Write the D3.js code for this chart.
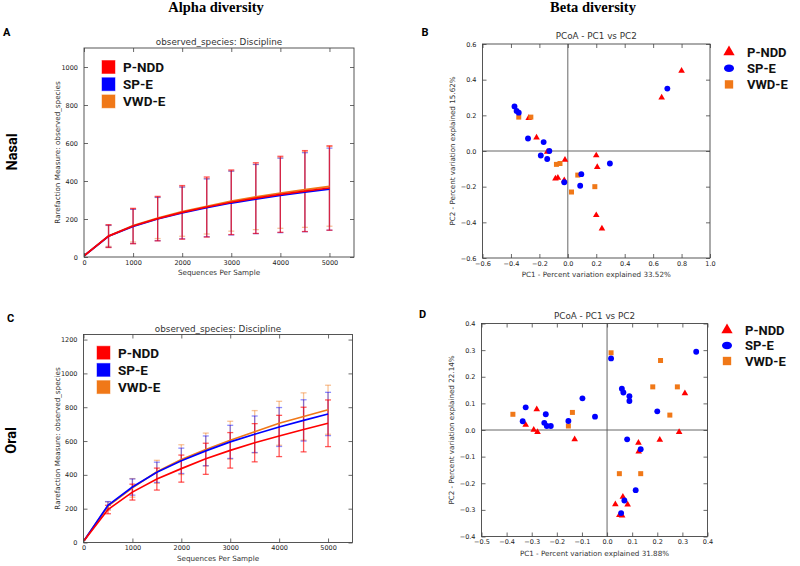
<!DOCTYPE html>
<html>
<head>
<meta charset="utf-8">
<script src="https://cdn.jsdelivr.net/npm/d3@7"></script>
<style>
body{margin:0;background:#fff}
</style>
</head>
<body>
<div id="chart"></div>
<script>
// groups + colours
var groups = ["P-NDD", "SP-E", "VWD-E"]
var groupColors = ["#ff0000", "#0000ff", "#f07818"]

// rarefaction depths (x axis)
var seqDepth = [10, 500, 1000, 1500, 2000, 2500, 3000, 3500, 4000, 4500, 5000]
var xTicksRare = [0, 1000, 2000, 3000, 4000, 5000]

// nasal alpha rarefaction: mean and std dev per group
var nasalMean_PNDD = [8, 110, 163, 202, 235, 263, 288, 310, 330, 347, 363]
var nasalMean_SPE  = [8, 109, 161, 200, 232, 259, 284, 305, 324, 341, 357]
var nasalMean_VWDE = [8, 111, 165, 205, 239, 267, 294, 316, 337, 355, 372]
var nasalSd_PNDD = [0, 60, 93, 117, 141, 158, 170, 186, 200, 213, 222]
var nasalSd_SPE  = [0, 58, 90, 114, 136, 152, 168, 182, 196, 208, 216]
var nasalSd_VWDE = [0, 55, 86, 108, 130, 146, 158, 172, 186, 199, 210]
var nasalYTicks = [0, 200, 400, 600, 800, 1000]

// oral alpha rarefaction
var oralMean_PNDD = [10, 195, 298, 375, 437, 495, 545, 590, 630, 668, 705]
var oralMean_SPE  = [10, 220, 328, 415, 483, 542, 595, 640, 683, 722, 760]
var oralMean_VWDE = [10, 215, 323, 418, 490, 550, 605, 655, 705, 745, 785]
var oralSd_PNDD = [0, 25, 47, 65, 80, 92, 105, 113, 122, 132, 138]
var oralSd_SPE  = [0, 22, 48, 60, 75, 88, 98, 108, 115, 122, 128]
var oralSd_VWDE = [0, 25, 55, 68, 88, 97, 112, 125, 130, 140, 145]
var oralYTicks = [0, 200, 400, 600, 800, 1000, 1200]

// nasal PCoA [PC1, PC2]
var nasalPcoa_PNDD = [[0.80,0.45],[0.66,0.30],[-0.275,0.185],[-0.22,0.075],[-0.145,-0.005],[-0.02,-0.05],[-0.087,-0.155],[-0.07,-0.15],[-0.025,-0.165],[0.20,-0.025],[0.207,-0.09],[0.20,-0.36],[0.24,-0.435]]
var nasalPcoa_SPE = [[0.70,0.35],[-0.375,0.25],[-0.36,0.225],[-0.345,0.215],[-0.28,0.07],[-0.17,0.05],[-0.13,0.0],[-0.19,-0.025],[-0.145,-0.045],[-0.025,-0.175],[0.095,-0.13],[0.087,-0.195],[0.296,-0.07]]
var nasalPcoa_VWDE = [[-0.345,0.19],[-0.26,0.19],[-0.08,-0.075],[-0.055,-0.07],[0.07,-0.135],[0.026,-0.23],[0.19,-0.2]]

// oral PCoA [PC1, PC2]
var oralPcoa_PNDD = [[-0.28,0.078],[-0.324,0.019],[-0.292,0.001],[-0.277,-0.008],[-0.129,-0.035],[0.31,0.138],[0.125,-0.048],[0.126,-0.081],[0.21,-0.037],[0.287,-0.008],[0.063,-0.251],[0.033,-0.279],[0.082,-0.28],[0.049,-0.32],[0.06,-0.321]]
var oralPcoa_SPE = [[-0.324,0.085],[-0.336,0.033],[-0.244,0.059],[-0.25,0.027],[-0.24,0.015],[-0.224,0.015],[-0.154,0.034],[-0.098,0.119],[-0.048,0.05],[0.016,0.269],[0.355,0.294],[0.059,0.155],[0.065,0.141],[0.089,0.127],[0.089,0.109],[0.2,0.07],[0.08,-0.035],[0.134,-0.072],[0.114,-0.226],[0.069,-0.265],[0.056,-0.312]]
var oralPcoa_VWDE = [[-0.375,0.059],[-0.138,0.066],[-0.154,0.015],[0.016,0.29],[0.213,0.261],[0.182,0.162],[0.28,0.162],[0.25,0.056],[0.049,-0.164],[0.134,-0.164]]

var nasalPctPC1 = "33.52%", nasalPctPC2 = "15.62%"
var oralPctPC1 = "31.88%", oralPctPC2 = "22.14%"

var sansFont = "'DejaVu Sans', sans-serif"
var boldFont = "Roboto, 'Liberation Sans', sans-serif"

var svg = d3.select("#chart").append("svg")
    .attr("width", 800)
    .attr("height", 566)
    .style("background", "#fff")

// frame + inward ticks on all four sides
function drawAxes(g, x, y, xTicks, yTicks, fmt){
  var yb = y.range()[0], yt = y.range()[1]
  var xl = x.range()[0], xr = x.range()[1]
  var bottom = g.append("g").attr("transform", "translate(0," + yb + ")")
    .call(d3.axisBottom(x).tickValues(xTicks).tickSize(-4).tickSizeOuter(0).tickPadding(3).tickFormat(fmt))
  var top = g.append("g").attr("transform", "translate(0," + yt + ")")
    .call(d3.axisTop(x).tickValues(xTicks).tickSize(-4).tickSizeOuter(0).tickFormat(""))
  var left = g.append("g").attr("transform", "translate(" + xl + ",0)")
    .call(d3.axisLeft(y).tickValues(yTicks).tickSize(-4).tickSizeOuter(0).tickPadding(6).tickFormat(fmt))
  var right = g.append("g").attr("transform", "translate(" + xr + ",0)")
    .call(d3.axisRight(y).tickValues(yTicks).tickSize(-4).tickSizeOuter(0).tickFormat(""))
  ;[bottom, top, left, right].forEach(function(a){
    a.select(".domain").remove()
    a.selectAll("line").attr("stroke", "#444").attr("stroke-width", 0.8)
    a.selectAll("text").attr("font-family", sansFont).attr("font-size", 6.5).attr("fill", "#222")
  })
  g.append("rect")
    .attr("x", xl).attr("y", yt)
    .attr("width", xr - xl).attr("height", yb - yt)
    .attr("fill", "none").attr("stroke", "#444").attr("stroke-width", 0.9)
}

function axisLabels(g, x, y, title, xlab, ylab, titleY, xlabY, ylabX){
  var cx = (x.range()[0] + x.range()[1]) / 2
  var cy = (y.range()[0] + y.range()[1]) / 2
  g.append("text").text(title).attr("x", cx).attr("y", titleY)
    .attr("text-anchor", "middle").attr("font-family", sansFont).attr("font-size", 8.8).attr("fill", "#333")
  g.append("text").text(xlab).attr("x", cx).attr("y", xlabY)
    .attr("text-anchor", "middle").attr("font-family", sansFont).attr("font-size", 7.2).attr("fill", "#333")
  g.append("text").text(ylab)
    .attr("transform", "translate(" + ylabX + "," + cy + ") rotate(-90)")
    .attr("text-anchor", "middle").attr("font-family", sansFont).attr("font-size", 7.2).attr("fill", "#333")
}

function rarefactionPanel(opt){
  var g = svg.append("g")
  var x = d3.scaleLinear().domain([0, 5500]).range([opt.left, opt.right])
  var y = d3.scaleLinear().domain([0, opt.yMax]).range([opt.bottom, opt.top])

  // error bars: orange, blue, then red on top
  var order = [2, 1, 0]
  var ebOpacity = [0.65, 0.45, 0.45]
  order.forEach(function(k){
    var mean = opt.means[k], sd = opt.sds[k]
    var eb = g.append("g").attr("stroke", groupColors[k]).attr("stroke-opacity", ebOpacity[k]).attr("stroke-width", 1.3)
    seqDepth.forEach(function(d, i){
      if(sd[i] == 0) return
      var px = x(d)
      eb.append("line").attr("x1", px).attr("x2", px).attr("y1", y(mean[i] - sd[i])).attr("y2", y(mean[i] + sd[i]))
      eb.append("line").attr("x1", px - 3).attr("x2", px + 3).attr("y1", y(mean[i] + sd[i])).attr("y2", y(mean[i] + sd[i]))
      eb.append("line").attr("x1", px - 3).attr("x2", px + 3).attr("y1", y(mean[i] - sd[i])).attr("y2", y(mean[i] - sd[i]))
    })
  })

  var line = d3.line().x(function(d, i){ return x(seqDepth[i]) }).y(function(d){ return y(d) })
  order.forEach(function(k){
    g.append("path").datum(opt.means[k])
      .attr("d", line)
      .attr("fill", "none")
      .attr("stroke", groupColors[k])
      .attr("stroke-width", 1.7)
  })

  drawAxes(g, x, y, xTicksRare, opt.yTicks, d3.format("d"))
  axisLabels(g, x, y, "observed_species: Discipline", "Sequences Per Sample",
    "Rarefaction Measure: observed_species", opt.top - 3, opt.bottom + 18, opt.left - 24)

  // legend
  groups.forEach(function(name, k){
    var ly = opt.legY + k * opt.legStep
    g.append("rect")
      .attr("x", opt.legX).attr("y", ly - 6.5)
      .attr("width", 13).attr("height", 13)
      .attr("fill", groupColors[k])
      .attr("stroke", groupColors[k]).attr("stroke-opacity", 0.45).attr("stroke-width", 1)
    g.append("text").text(name)
      .attr("x", opt.legX + 21).attr("y", ly).attr("dy", "0.36em")
      .attr("font-family", boldFont).attr("font-weight", "bold").attr("font-size", 13.5).attr("fill", "#111")
  })
}

function pcoaPanel(opt){
  var g = svg.append("g")
  var x = d3.scaleLinear().domain(opt.xDom).range([opt.left, opt.right])
  var y = d3.scaleLinear().domain(opt.yDom).range([opt.bottom, opt.top])

  // cross lines through origin
  g.append("line").attr("x1", x(0)).attr("x2", x(0)).attr("y1", opt.top).attr("y2", opt.bottom)
    .attr("stroke", "#555").attr("stroke-width", 0.9)
  g.append("line").attr("x1", opt.left).attr("x2", opt.right).attr("y1", y(0)).attr("y2", y(0))
    .attr("stroke", "#555").attr("stroke-width", 0.9)

  var shapes = [d3.symbolTriangle, d3.symbolCircle, d3.symbolSquare]
  var sizes = [19, 27, 25]
  ;[0, 2, 1].forEach(function(k){
    g.append("g").selectAll("path")
      .data(opt.points[k])
      .enter().append("path")
      .attr("d", d3.symbol().type(shapes[k]).size(sizes[k]))
      .attr("transform", function(d){ return "translate(" + x(d[0]) + "," + y(d[1]) + ")" })
      .attr("fill", groupColors[k])
  })

  drawAxes(g, x, y, opt.xTicks, opt.yTicks, d3.format(".1f"))
  axisLabels(g, x, y, "PCoA - PC1 vs PC2", "PC1 - Percent variation explained " + opt.pc1,
    "PC2 - Percent variation explained " + opt.pc2, opt.top - 5, opt.bottom + 19, opt.left - 28)

  // legend (outside, right)
  groups.forEach(function(name, k){
    var ly = opt.legY + k * opt.legStep
    var mk
    if(k == 1){
      mk = g.append("ellipse").attr("cx", opt.legX).attr("cy", ly).attr("rx", 5).attr("ry", 3.8)
    }else{
      mk = g.append("path")
        .attr("d", d3.symbol().type(shapes[k]).size(k == 0 ? 55 : 70))
        .attr("transform", "translate(" + opt.legX + "," + ly + ")")
    }
    mk.attr("fill", groupColors[k])
    g.append("text").text(name)
      .attr("x", opt.legX + 18).attr("y", ly).attr("dy", "0.36em")
      .attr("font-family", boldFont).attr("font-weight", "bold").attr("font-size", 13).attr("fill", "#111")
  })
}

// column headers
svg.append("text").text("Alpha diversity").attr("x", 216).attr("y", 12)
  .attr("text-anchor", "middle").attr("font-family", "'Liberation Serif', serif").attr("font-weight", "bold").attr("font-size", 14.5)
svg.append("text").text("Beta diversity").attr("x", 593).attr("y", 12)
  .attr("text-anchor", "middle").attr("font-family", "'Liberation Serif', serif").attr("font-weight", "bold").attr("font-size", 14.5)

// row labels
svg.append("text").text("Nasal").attr("transform", "translate(16.5,152) rotate(-90)")
  .attr("text-anchor", "middle").attr("font-family", boldFont).attr("font-weight", "bold").attr("font-size", 14.5)
svg.append("text").text("Oral").attr("transform", "translate(15.5,440.5) rotate(-90)")
  .attr("text-anchor", "middle").attr("font-family", boldFont).attr("font-weight", "bold").attr("font-size", 14.5)

// panel letters
var letters = [["A", 3, 36], ["B", 421.5, 36], ["C", 7, 322], ["D", 419, 318]]
letters.forEach(function(l){
  svg.append("text").text(l[0]).attr("x", l[1]).attr("y", l[2])
    .attr("font-family", boldFont).attr("font-weight", "bold").attr("font-size", 11)
})

rarefactionPanel({
  left: 84, right: 354, top: 48, bottom: 257, yMax: 1100, yTicks: nasalYTicks,
  means: [nasalMean_PNDD, nasalMean_SPE, nasalMean_VWDE],
  sds: [nasalSd_PNDD, nasalSd_SPE, nasalSd_VWDE],
  legX: 102, legY: 67, legStep: 17.2
})

rarefactionPanel({
  left: 83.5, right: 352.5, top: 334.5, bottom: 542.5, yMax: 1230, yTicks: oralYTicks,
  means: [oralMean_PNDD, oralMean_SPE, oralMean_VWDE],
  sds: [oralSd_PNDD, oralSd_SPE, oralSd_VWDE],
  legX: 97, legY: 352.7, legStep: 17.2
})

pcoaPanel({
  left: 482.5, right: 710, top: 44, bottom: 258,
  xDom: [-0.6, 1.0], yDom: [-0.6, 0.6],
  xTicks: d3.range(-6, 11, 2).map(function(v){ return v / 10 }),
  yTicks: d3.range(-6, 7, 2).map(function(v){ return v / 10 }),
  points: [nasalPcoa_PNDD, nasalPcoa_SPE, nasalPcoa_VWDE],
  pc1: nasalPctPC1, pc2: nasalPctPC2,
  legX: 729, legY: 52, legStep: 16.2
})

pcoaPanel({
  left: 481.5, right: 707.5, top: 323.5, bottom: 536.5,
  xDom: [-0.5, 0.4], yDom: [-0.4, 0.4],
  xTicks: d3.range(-5, 5, 1).map(function(v){ return v / 10 }),
  yTicks: d3.range(-4, 5, 1).map(function(v){ return v / 10 }),
  points: [oralPcoa_PNDD, oralPcoa_SPE, oralPcoa_VWDE],
  pc1: oralPctPC1, pc2: oralPctPC2,
  legX: 727, legY: 330, legStep: 15.5
})
</script>
</body>
</html>
